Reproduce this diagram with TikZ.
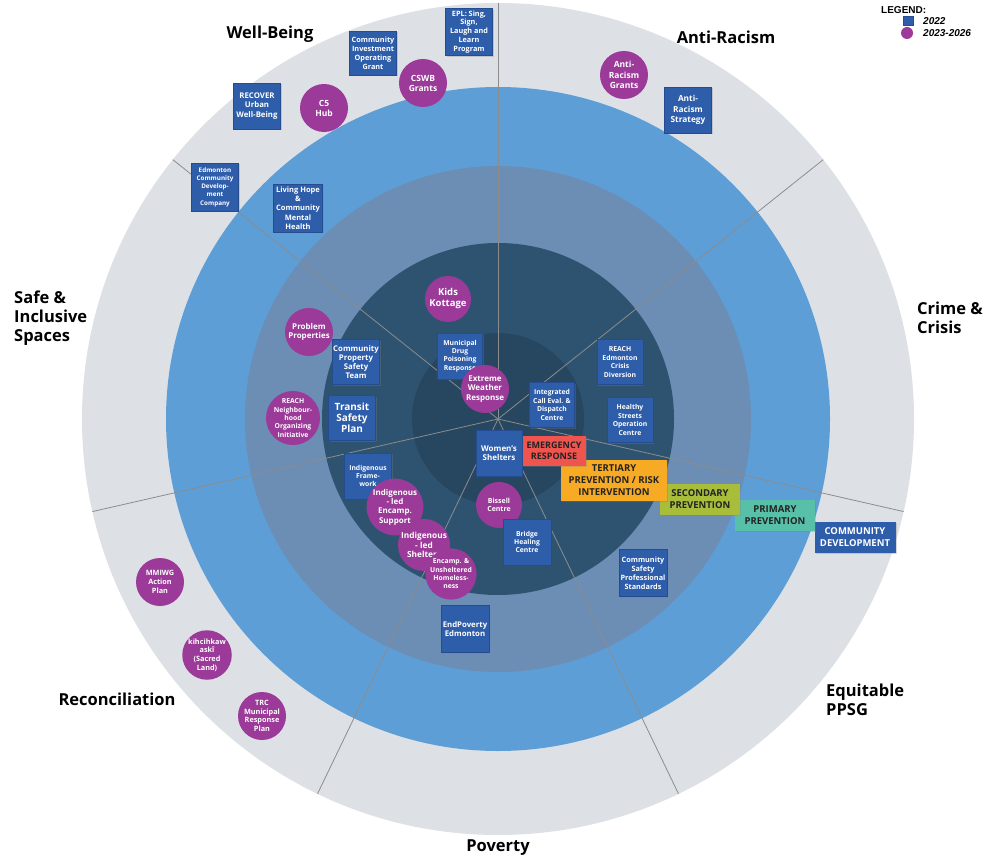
\documentclass[tikz,border=0pt]{standalone}
\usepackage{fontspec}
\setmainfont{Open Sans}
\newfontfamily\legfont{Liberation Sans}
\usetikzlibrary{shadows}
\definecolor{ringA}{HTML}{DDE1E6}
\definecolor{ringB}{HTML}{5D9ED6}
\definecolor{ringC}{HTML}{6C8DB4}
\definecolor{ringD}{HTML}{2E5370}
\definecolor{ringE}{HTML}{274660}
\definecolor{boxblue}{HTML}{2E5DAA}
\definecolor{boxedge}{HTML}{244C8E}
\definecolor{purp}{HTML}{9B3A98}
\definecolor{emred}{HTML}{F0544F}
\definecolor{tertor}{HTML}{F7AA23}
\definecolor{secgr}{HTML}{A8BD3A}
\definecolor{primt}{HTML}{58C0A8}
\definecolor{txtdark}{HTML}{222222}
\definecolor{divgray}{HTML}{8C8C8C}
\tikzset{
  fs/.style 2 args={font=\bfseries\fontsize{#1}{#2}\selectfont},
  sq/.style={fill=boxblue, draw=boxedge, line width=0.6, minimum width=47, minimum height=46,
    inner sep=0, text=white, align=center, fs={7.5}{9},
    drop shadow={opacity=0.3, shadow xshift=1.2pt, shadow yshift=-1.2pt}},
  ci/.style={circle, fill=purp, minimum size=48, inner sep=0, text=white, align=center, fs={8}{9.4}},
  band/.style={inner sep=0, align=center, fs={9.5}{12}, text=txtdark,
    drop shadow={opacity=0.3, shadow xshift=1.2pt, shadow yshift=-1.2pt}},
  cat/.style={fs={16.5}{19}, align=left, inner sep=0, text=black},
  divider/.style={draw=divgray, line width=0.8},
  legtxt/.style={anchor=west, inner sep=0, font=\legfont\bfseries\itshape\fontsize{10}{11}\selectfont},
}
\begin{document}
\begin{tikzpicture}[x=1pt,y=-1pt]
\useasboundingbox (0,0) rectangle (984,858);
\fill[white] (0,0) rectangle (984,858);
\coordinate (C) at (498,419);
% rings
\fill[ringA] (C) circle[radius=416pt];
\fill[ringB] (C) circle[radius=332pt];
\fill[ringC] (C) circle[radius=253pt];
\fill[ringD] (C) circle[radius=176pt];
\fill[ringE] (C) circle[radius=86pt];
% dividers
\foreach \k in {0,...,6} \draw[divider] (C) -- ++({-90+\k*360/7}:416);
% category labels
\node[cat, anchor=center] (wb) at (270,34) {Well-Being};
\node[cat, anchor=center] (ar) at (726,37) {Anti-Racism};
\node[cat, anchor=west] (cc) at (917,318) {Crime \&\\Crisis};
\node[cat, anchor=west] (ep) at (826,700) {Equitable\\PPSG};
\node[cat, anchor=center] (pov) at (498,848) {Poverty};
\node[cat, anchor=center] (rec) at (117,699) {Reconciliation};
\node[cat, anchor=west] (safe) at (14,318) {Safe \&\\Inclusive\\Spaces};
% legend
\node[anchor=west, inner sep=0, font=\legfont\bfseries\fontsize{10}{11}\selectfont] (leg) at (881,10) {LEGEND:};
\node[fill=boxblue, draw=boxedge, line width=0.5, minimum width=10, minimum height=9, inner sep=0] (legsq) at (908,21) {};
\node[legtxt] (leg22) at (923,21) {2022};
\node[circle, fill=purp, minimum size=12, inner sep=0] (legci) at (907,33) {};
\node[legtxt] (leg23) at (923,33) {2023-2026};
% Well-Being items
\node[sq, minimum height=47, fs={7.3}{8.9}] (epl) at (469,32) {EPL: Sing,\\Sign,\\Laugh and\\Learn\\Program};
\node[sq, minimum height=44, fs={7.3}{9}] (cig) at (373,53) {Community\\Investment\\Operating\\Grant};
\node[ci, fs={8.5}{10}] (cswb) at (423,83) {CSWB\\Grants};
\node[ci, fs={8.5}{10}] (c5) at (324,108) {C5\\Hub};
\node[sq, fs={7.8}{9.5}] (recover) at (257,106) {RECOVER\\Urban\\Well-Being};
\node[sq, minimum height=48, fs={6.3}{8.3}] (ecdc) at (215,187) {Edmonton\\Community\\Develop-\\ment\\Company};
\node[sq, minimum width=49, minimum height=48, fs={7.5}{9.2}] (lh) at (298,208) {Living Hope\\\&\\Community\\Mental\\Health};
% Anti-Racism items
\node[ci, fs={8.5}{10.5}] (arg) at (624,75) {Anti-\\Racism\\Grants};
\node[sq, fs={8.3}{10.5}] (ars) at (688,110) {Anti-\\Racism\\Strategy};
% Safe & inclusive
\node[ci, minimum size=46, fs={9.5}{11}] (kids) at (448,299) {Kids\\Kottage};
\node[ci, fs={8}{9.3}] (pp) at (309,332) {Problem\\Properties};
\node[sq, minimum height=45, fs={7.8}{9.2}] (cpst) at (356,362) {Community\\Property\\Safety\\Team};
\node[sq, minimum width=45, fs={6.8}{8.3}] (mdp) at (460,356) {Municipal\\Drug\\Poisoning\\Response};
\node[ci, fs={8}{9.3}] (ewr) at (485,389) {Extreme\\Weather\\Response};
\node[ci, minimum size=46, fs={6.8}{8.3}] (rnoi) at (293,418) {REACH\\Neighbour-\\hood\\Organizing\\Initiative};
\node[sq, minimum height=45, fs={10}{11.2}] (tsp) at (352,418) {Transit\\Safety\\Plan};
% Crime & crisis
\node[sq, minimum width=45, minimum height=45, fs={6.8}{8.6}] (icd) at (552,405) {Integrated\\Call Eval. \&\\Dispatch\\Centre};
\node[sq, minimum width=46, minimum height=45, fs={6.8}{8.4}] (recd) at (620,362) {REACH\\Edmonton\\Crisis\\Diversion};
\node[sq, minimum width=46, minimum height=45, fs={6.8}{8.4}] (hsoc) at (630,420) {Healthy\\Streets\\Operation\\Centre};
\node[sq, minimum width=48, minimum height=47, fs={7.3}{9}] (csps) at (643,573) {Community\\Safety\\Professional\\Standards};
% Poverty / Reconciliation inner
\node[sq, minimum width=46, fs={8}{9.3}] (ws) at (499,453) {Women’s\\Shelters};
\node[sq, fs={6.8}{8.3}] (ifw) at (368,476) {Indigenous\\Frame-\\work};
\node[ci, fs={8}{9.3}] (iles) at (395,507) {Indigenous\\- led\\Encamp.\\Support};
\node[ci, fs={8.3}{9.3}] (ils) at (424,545) {Indigenous\\- led\\Shelters};
\node[ci, minimum size=46, fs={6.8}{8.3}] (euh) at (451,574) {Encamp. \&\\Unsheltered\\Homeless-\\ness};
\node[ci, minimum size=46, fs={7}{8.5}] (bc) at (499,505) {Bissell\\Centre};
\node[sq, minimum width=48, fs={6.8}{8.3}] (bhc) at (527,542) {Bridge\\Healing\\Centre};
\node[sq, minimum width=48, minimum height=47, fs={7.8}{9.3}] (epe) at (465,629) {EndPoverty\\Edmonton};
\node[ci, fs={7.3}{9.2}] (mmiwg) at (160,582) {MMIWG\\Action\\Plan};
\node[ci, fs={7.3}{8.6}] (kihc) at (207,655) {kihcihkaw\\askî\\(Sacred\\Land)};
\node[ci, fs={7.3}{8.6}] (trc) at (262,716) {TRC\\Municipal\\Response\\Plan};
% prevention bands
\node[band, fill=boxblue, text=white, minimum width=81, minimum height=31] (cdev) at (855,537) {COMMUNITY\\DEVELOPMENT};
\node[band, fill=primt, minimum width=80, minimum height=31] (prim) at (775,515) {PRIMARY\\PREVENTION};
\node[band, fill=secgr, minimum width=80, minimum height=31] (sec) at (700,499) {SECONDARY\\PREVENTION};
\node[band, fill=tertor, minimum width=106, minimum height=41] (tert) at (614,480) {TERTIARY\\PREVENTION / RISK\\INTERVENTION};
\node[band, fill=emred, minimum width=63, minimum height=30, fs={9}{10.5}] (emer) at (554,451) {EMERGENCY\\RESPONSE};
\end{tikzpicture}
\end{document}
